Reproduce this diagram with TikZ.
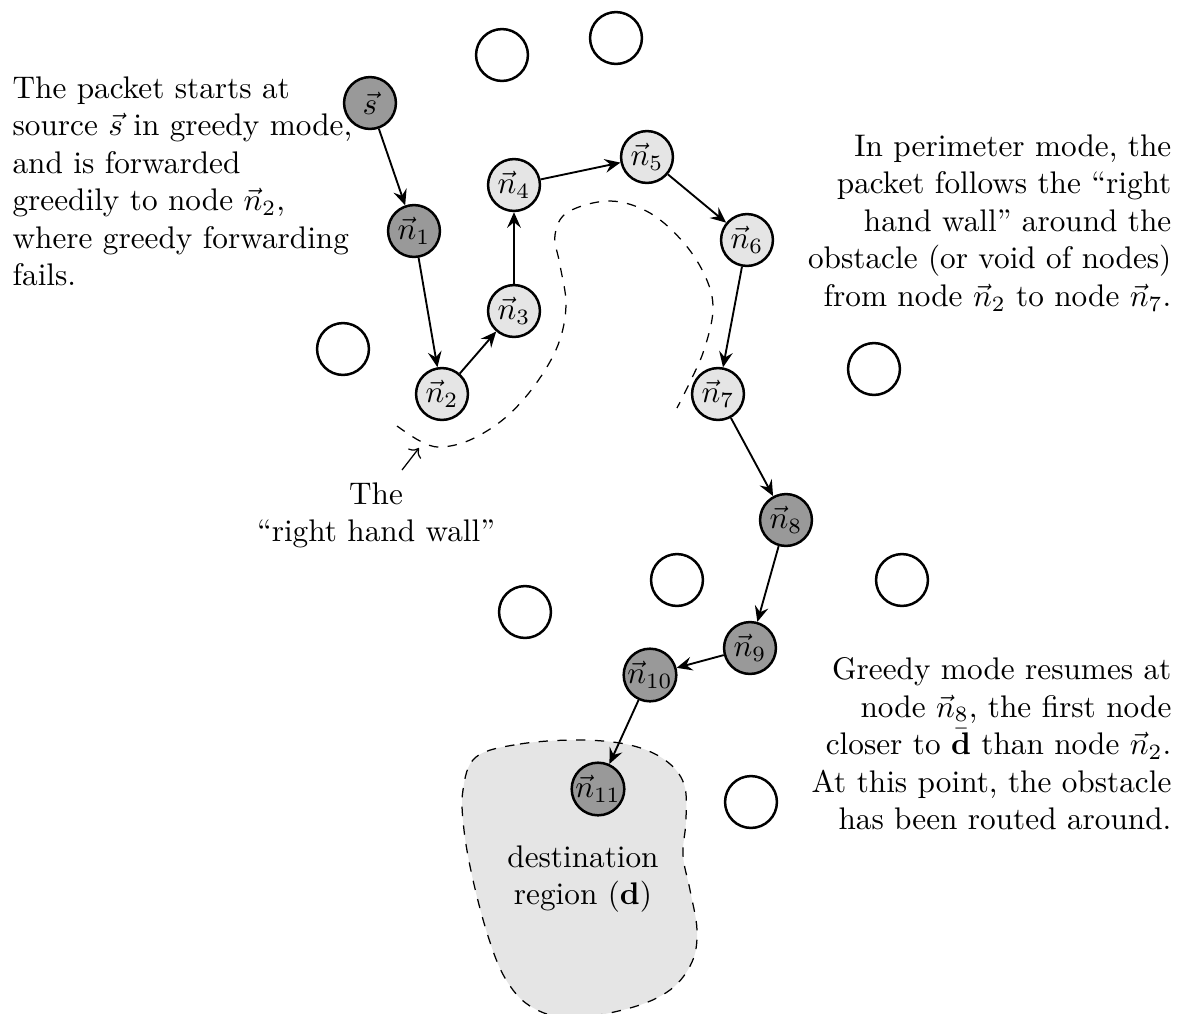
\documentclass[tikz,border=0pt]{standalone}
\usetikzlibrary{arrows.meta}
\begin{document}
\begin{tikzpicture}[x=0.32pt,y=-0.32pt,
  host/.style={circle,draw,thick,minimum size=16.6pt,inner sep=0pt},
  greedy/.style={host,fill=black!40},
  perim/.style={host,fill=black!10},
  idle/.style={host,fill=white},
  hop/.style={semithick,-{Stealth[length=5pt,width=4.4pt,inset=1.8pt]}},
  note/.style={inner sep=0pt,font=\normalsize}]
\useasboundingbox (0,0) rectangle (1181,1013);

% destination region
\draw[dashed,fill=black!10] plot[smooth cycle,tension=0.6] coordinates {
  (476,757) (520,744) (580,740) (630,745) (665,760) (684,784) (686,820)
  (683,855) (690,890) (697,930) (692,962) (670,990) (630,1008) (570,1018)
  (530,1006) (505,978) (488,936) (473,880) (464,830) (463,790)};
\node[note,align=center] (dest) at (583,879) {destination\\region ($\mathbf{d}$)};

% the right hand wall
\draw[dashed] plot[smooth,tension=0.6] coordinates {
  (397,426) (420,441) (440,447) (470,440) (505,418) (535,385) (558,345)
  (566,305) (560,265) (555,235) (568,212) (610,201) (650,213) (684,243)
  (706,278) (713,310) (704,350) (690,382) (677,408)};

% hosts on the route
\node[greedy] (s)   at (370,103) {$\vec{s}$};
\node[greedy] (n1)  at (414,231) {$\vec{n}_1$};
\node[perim]  (n2)  at (442,394) {$\vec{n}_2$};
\node[perim]  (n3)  at (514,311) {$\vec{n}_3$};
\node[perim]  (n4)  at (514,185) {$\vec{n}_4$};
\node[perim]  (n5)  at (647,157) {$\vec{n}_5$};
\node[perim]  (n6)  at (747,240) {$\vec{n}_6$};
\node[perim]  (n7)  at (718,394) {$\vec{n}_7$};
\node[greedy] (n8)  at (786,520) {$\vec{n}_8$};
\node[greedy] (n9)  at (750,648) {$\vec{n}_9$};
\node[greedy] (n10) at (650,675) {$\vec{n}_{10}$};
\node[greedy] (n11) at (598,789) {$\vec{n}_{11}$};

% other hosts
\node[idle] (o1) at (502,55) {};
\node[idle] (o2) at (616,38) {};
\node[idle] (o3) at (343,349) {};
\node[idle] (o4) at (874,369) {};
\node[idle] (o5) at (677,580) {};
\node[idle] (o6) at (902,580) {};
\node[idle] (o7) at (525,612) {};
\node[idle] (o8) at (751,802) {};

% forwarding hops
\draw[hop] (s) -- (n1);
\draw[hop] (n1) -- (n2);
\draw[hop] (n2) -- (n3);
\draw[hop] (n3) -- (n4);
\draw[hop] (n4) -- (n5);
\draw[hop] (n5) -- (n6);
\draw[hop] (n6) -- (n7);
\draw[hop] (n7) -- (n8);
\draw[hop] (n8) -- (n9);
\draw[hop] (n9) -- (n10);
\draw[hop] (n10) -- (n11);

% annotations
\node[note,align=left,anchor=north west] (left) at (12,76)
  {The packet starts at\\
   source $\vec{s}$ in greedy mode,\\
   and is forwarded\\
   greedily to node $\vec{n}_2$,\\
   where greedy forwarding\\
   fails.};
\node[note,align=right,anchor=north east] (perimnote) at (1172,134)
  {In perimeter mode, the\\
   packet follows the ``right\\
   hand wall'' around the\\
   obstacle (or void of nodes)\\
   from node $\vec{n}_2$ to node $\vec{n}_7$.};
\node[note,align=right,anchor=north east] (resume) at (1172,657)
  {Greedy mode resumes at\\
   node $\vec{n}_8$, the first node\\
   closer to $\bar{\mathbf{d}}$ than node $\vec{n}_2$.\\
   At this point, the obstacle\\
   has been routed around.};
\node[note,align=center,anchor=north] (wall) at (376,482)
  {The\\ ``right hand wall''};
\coordinate (wallpt) at (419,448);
\draw[thin,->] (402,470) -- (wallpt);
\end{tikzpicture}
\end{document}
